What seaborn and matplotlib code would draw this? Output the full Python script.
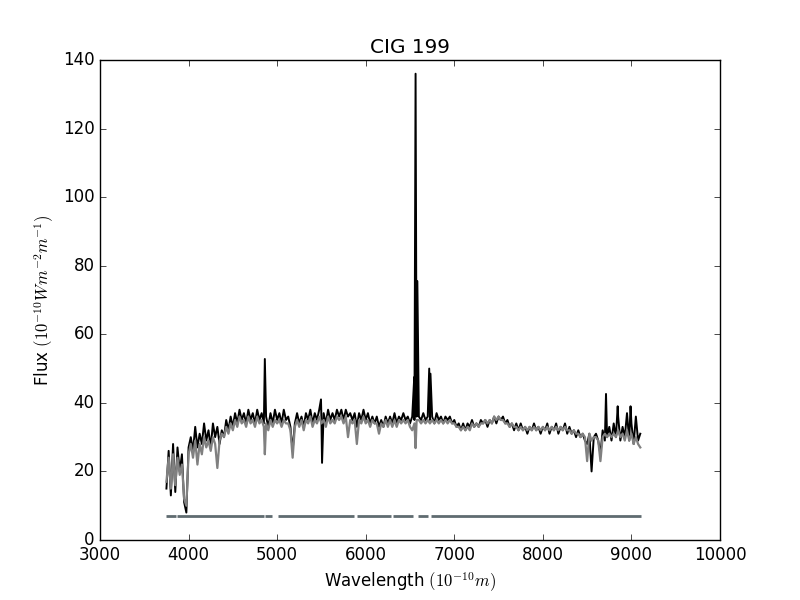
import numpy as np
import pandas as pd
import matplotlib
matplotlib.use("Agg")
import matplotlib.pyplot as plt
import seaborn as sns

# wavelength grid of the spectrum (Angstrom)
wave = np.arange(3750, 9101, 25)

# observed flux, one row per 250 A
obs_flux = [
    15, 26, 13, 28, 14, 27, 20, 25, 11, 8,      # 3750
    27, 30, 26, 33, 27, 31, 28, 34, 29, 32,     # 4000
    27, 34, 30, 33, 28, 32, 30, 35, 32, 36,     # 4250
    33, 37, 34, 38, 35, 37, 34, 38, 35, 37,     # 4500
    34, 38, 35, 37, 34, 36, 33, 37, 34, 38,     # 4750
    35, 37, 34, 38, 35, 36, 33, 26, 34, 37,     # 5000
    34, 36, 33, 37, 35, 38, 34, 37, 35, 38,     # 5250
    35, 37, 34, 38, 35, 37, 35, 38, 36, 38,     # 5500
    35, 38, 36, 37, 35, 37, 33, 37, 35, 38,     # 5750
    35, 37, 34, 36, 34, 36, 33, 35, 33, 36,     # 6000
    34, 36, 34, 37, 34, 36, 35, 37, 35, 36,     # 6250
    34, 36, 35, 36, 36, 35, 37, 35, 36, 35,     # 6500
    36, 34, 37, 35, 36, 34, 36, 35, 36, 34,     # 6750
    35, 33, 34, 32, 34, 32, 34, 33, 35, 33,     # 7000
    34, 33, 35, 34, 35, 33, 35, 34, 36, 34,     # 7250
    36, 35, 36, 34, 35, 33, 34, 32, 34, 32,     # 7500
    34, 32, 33, 31, 33, 32, 34, 32, 33, 31,     # 7750
    33, 32, 34, 31, 33, 32, 34, 31, 33, 32,     # 8000
    34, 31, 33, 31, 32, 30, 32, 30, 31, 29,     # 8250
    28, 31, 20, 30, 31, 29, 25, 32, 29, 30,     # 8500
    33, 29, 34, 30, 36, 29, 33, 30, 37, 29,     # 8750
    34, 28, 36, 29, 31,                         # 9000
]

# narrow emission lines / spikes in the observed spectrum
line_wave = [4861, 5495, 5507, 6548, 6563, 6583, 6717, 6731, 8713, 8845, 8990]
line_flux = [52.8, 41, 22.5, 47.5, 136, 75.5, 50, 48.5, 42.6, 39, 39]

# fitted stellar model
model_flux = [
    17, 24, 15, 25, 16, 24, 19, 22, 12, 10,     # 3750
    25, 28, 24, 29, 22, 28, 25, 30, 27, 29,     # 4000
    26, 30, 28, 21, 29, 31, 30, 33, 31, 34,     # 4250
    32, 35, 33, 36, 34, 35, 33, 36, 34, 35,     # 4500
    33, 36, 34, 35, 33, 34, 32, 35, 33, 35,     # 4750
    34, 35, 33, 35, 34, 34, 32, 24, 33, 35,     # 5000
    33, 35, 32, 35, 34, 36, 33, 35, 34, 36,     # 5250
    34, 35, 33, 36, 34, 35, 34, 36, 35, 36,     # 5500
    34, 36, 30, 35, 34, 35, 28, 35, 34, 36,     # 5750
    34, 35, 33, 35, 34, 34, 31, 34, 33, 35,     # 6000
    33, 35, 33, 35, 33, 35, 34, 35, 34, 35,     # 6250
    33, 32, 34, 35, 35, 34, 35, 34, 35, 34,     # 6500
    35, 34, 35, 34, 35, 34, 35, 34, 35, 34,     # 6750
    34, 33, 33, 32, 33, 32, 33, 32, 34, 33,     # 7000
    34, 33, 34, 34, 35, 34, 35, 34, 36, 35,     # 7250
    36, 35, 35, 34, 34, 33, 34, 33, 33, 32,     # 7500
    33, 32, 33, 32, 33, 32, 33, 32, 33, 32,     # 7750
    33, 32, 33, 32, 33, 32, 33, 32, 33, 32,     # 8000
    33, 32, 32, 31, 32, 31, 31, 30, 31, 30,     # 8250
    23, 31, 29, 30, 30, 29, 23, 30, 31, 30,     # 8500
    31, 30, 31, 30, 32, 30, 31, 29, 32, 29,     # 8750
    31, 28, 30, 28, 27,                         # 9000
]
model_line_wave = [4861, 6563]
model_line_flux = [25, 26.8]

# fitted regions (mask), drawn as a line at constant flux
mask_start = [3745, 3869, 4863, 5010, 5902, 6308, 6590, 6737]
mask_end = [3858, 4852, 4942, 5868, 6286, 6534, 6703, 9108]
mask_level = 7


def merge(w, f, extra_w, extra_f):
    df = pd.DataFrame({"wave": np.concatenate([w, extra_w]),
                       "flux": np.concatenate([f, extra_f])})
    return df.sort_values("wave").reset_index(drop=True)


def main():
    plt.style.use("classic")
    obs = merge(wave, obs_flux, line_wave, line_flux)
    mod = merge(wave, model_flux, model_line_wave, model_line_flux)

    seg = pd.DataFrame({
        "wave": mask_start + mask_end,
        "flux": [mask_level] * (2 * len(mask_start)),
        "seg": list(range(len(mask_start))) * 2,
    })

    fig, ax = plt.subplots(figsize=(8, 6))
    sns.lineplot(data=obs, x="wave", y="flux", estimator=None, sort=False,
                 color="black", lw=1.4, ax=ax)
    sns.lineplot(data=mod, x="wave", y="flux", estimator=None, sort=False,
                 color="gray", lw=1.6, ax=ax)
    sns.lineplot(data=seg, x="wave", y="flux", units="seg", estimator=None,
                 color="#5f6b70", lw=2, solid_capstyle="butt", ax=ax)

    ax.set_xlim(3000, 10000)
    ax.set_ylim(0, 140)
    ax.set_title("CIG 199")
    ax.set_xlabel(r"Wavelength $(10^{-10} m)$")
    ax.set_ylabel(r"Flux $(10^{-10} W m^{-2} m^{-1})$")
    fig.subplots_adjust(left=0.125, right=0.9, bottom=0.1, top=0.9)
    fig.savefig("out.png", dpi=100)
    plt.close(fig)


if __name__ == "__main__":
    main()
